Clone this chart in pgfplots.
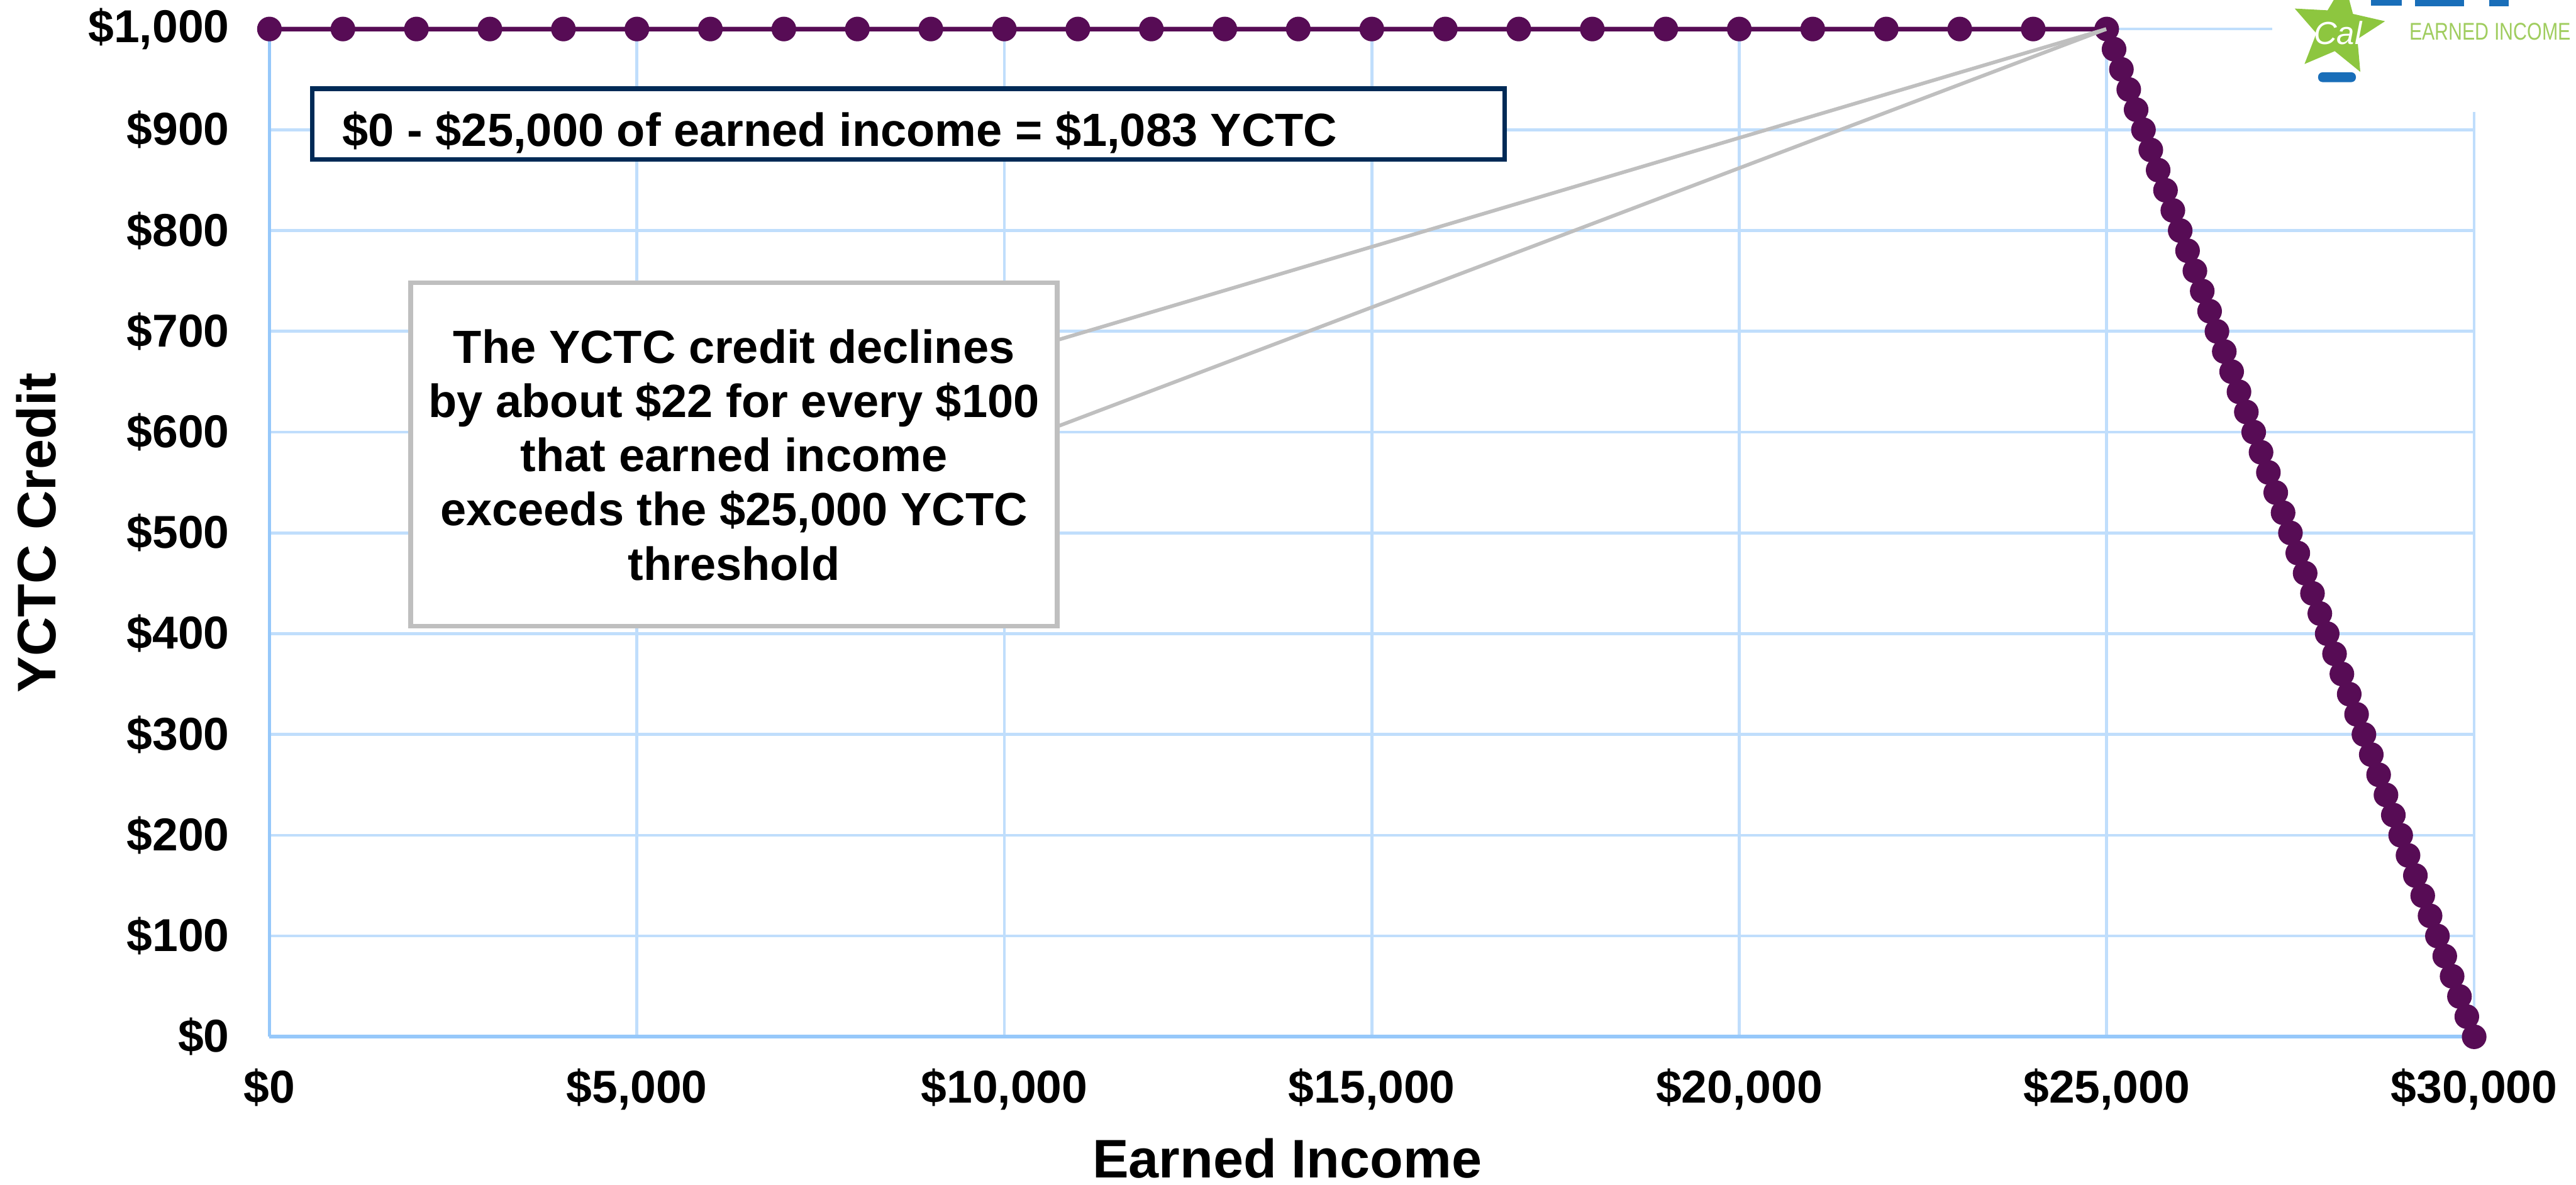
\documentclass[border=0pt]{standalone}
\usepackage{graphicx}
\usepackage{pgfplots}
\pgfplotsset{compat=1.18}
\usepackage{fontspec}
\setmainfont{Liberation Sans}
\usetikzlibrary{shapes.geometric}
\definecolor{ycpurple}{RGB}{87,12,85}
\definecolor{gridblue}{RGB}{192,222,252}
\definecolor{axisblue}{RGB}{150,200,250}
\definecolor{navy}{RGB}{0,42,86}
\definecolor{callgray}{RGB}{191,191,191}
\definecolor{logogreen}{RGB}{141,198,63}
\definecolor{logotext}{RGB}{160,205,95}
\definecolor{logoblue}{RGB}{25,110,185}
\begin{document}
\begin{tikzpicture}
\path[use as bounding box] (-59.04pt,-32.4pt) rectangle (505.44pt,227.16pt);
\begin{axis}[
  at={(0pt,0pt)}, anchor=south west,
  scale only axis, width=483.12pt, height=220.8pt,
  xmin=0, xmax=30000, ymin=0, ymax=1000,
  clip=false,
  xtick={0,5000,10000,15000,20000,25000,30000},
  ytick={0,100,200,300,400,500,600,700,800,900,1000},
  scaled ticks=false,
  grid=major,
  major grid style={draw=gridblue, line width=0.65pt},
  axis lines*=left,
  axis line style={draw=axisblue, line width=0.8pt},
  major tick length=0pt,
  /pgf/number format/fixed,
  /pgf/number format/precision=0,
  /pgf/number format/1000 sep={,},
  /pgf/number format/assume math mode=true,
  xticklabel={\$\pgfmathprintnumber{\tick}},
  yticklabel={\$\pgfmathprintnumber{\tick}},
  tick label style={font=\fontsize{10.1}{12}\selectfont\bfseries},
  xticklabel style={anchor=north, inner sep=0pt, yshift=-6.8pt},
  yticklabel style={anchor=east, inner sep=0pt, xshift=-8.6pt},
  xlabel={Earned Income}, ylabel={YCTC Credit},
  label style={font=\fontsize{11.9}{14}\selectfont\bfseries},
  xlabel style={at={(axis description cs:0.4616,-0.1207)}, anchor=center, inner sep=0pt},
  ylabel style={at={(axis description cs:-0.1058,0.5)}, anchor=center, inner sep=0pt},
]
\addplot[color=ycpurple, line width=1pt, mark=*, mark size=2.2pt,
  mark options={fill=ycpurple, draw=ycpurple, solid}] coordinates {
(0,1000) (1000,1000) (2000,1000) (3000,1000) (4000,1000) (5000,1000)
(6000,1000) (7000,1000) (8000,1000) (9000,1000) (10000,1000) (11000,1000)
(12000,1000) (13000,1000) (14000,1000) (15000,1000) (16000,1000) (17000,1000)
(18000,1000) (19000,1000) (20000,1000) (21000,1000) (22000,1000) (23000,1000)
(24000,1000) (25000,1000)
(25100,980) (25200,960) (25300,940) (25400,920) (25500,900)
(25600,880) (25700,860) (25800,840) (25900,820) (26000,800)
(26100,780) (26200,760) (26300,740) (26400,720) (26500,700)
(26600,680) (26700,660) (26800,640) (26900,620) (27000,600)
(27100,580) (27200,560) (27300,540) (27400,520) (27500,500)
(27600,480) (27700,460) (27800,440) (27900,420) (28000,400)
(28100,380) (28200,360) (28300,340) (28400,320) (28500,300)
(28600,280) (28700,260) (28800,240) (28900,220) (29000,200)
(29100,180) (29200,160) (29300,140) (29400,120) (29500,100)
(29600,80) (29700,60) (29800,40) (29900,20) (30000,0)
};
\end{axis}
\begin{scope}[x=0.36pt, y=-0.36pt, shift={(-164,-631)}]
  % logo
  \fill[white] (1383,0) rectangle (1568,68);
  \node[star, star points=5, star point ratio=2.2, fill=logogreen, minimum size=21pt, inner sep=0pt, rotate=-8] at (1423,18) {};
  \node[text=white, font=\fontsize{7}{7}\selectfont\itshape] at (1423,20) {Cal};
  \fill[logoblue, rounded corners=1pt] (1411,44) rectangle (1434,50);
  \fill[logoblue] (1443,0) rectangle (1462,3.5);
  \fill[logoblue] (1470,0) rectangle (1500,4);
  \fill[logoblue] (1515,0) rectangle (1527,4);
  \node[anchor=base west, inner sep=0pt, text=logotext, font=\fontsize{5.3}{6}\selectfont] at (1466,24.5) {\scalebox{0.79}[1]{EARNED INCOME}};
  % callout lines
  \draw[callgray, line width=0.8pt] (643.5,207) -- (1282,17.7);
  \draw[callgray, line width=0.8pt] (643.5,259.6) -- (1282,17.7);
  % box 1
  \draw[navy, line width=1pt, fill=white] (190,54) rectangle (916,97);
  \node[anchor=base west, inner sep=0pt, font=\fontsize{10.2}{12}\selectfont\bfseries] at (208,89) {\$0 - \$25,000 of earned income = \$1,083 YCTC};
  % box 2
  \draw[callgray, line width=1pt, fill=white] (250,172) rectangle (643.5,381);
  \begin{scope}[every node/.style={anchor=base, inner sep=0pt, font=\fontsize{10.2}{12}\selectfont\bfseries}]
    \node at (446.8,221) {The YCTC credit declines};
    \node at (446.8,254) {by about \$22 for every \$100};
    \node at (446.8,287) {that earned income};
    \node at (446.8,320) {exceeds the \$25,000 YCTC};
    \node at (446.8,353) {threshold};
  \end{scope}
\end{scope}
\end{tikzpicture}
\end{document}
